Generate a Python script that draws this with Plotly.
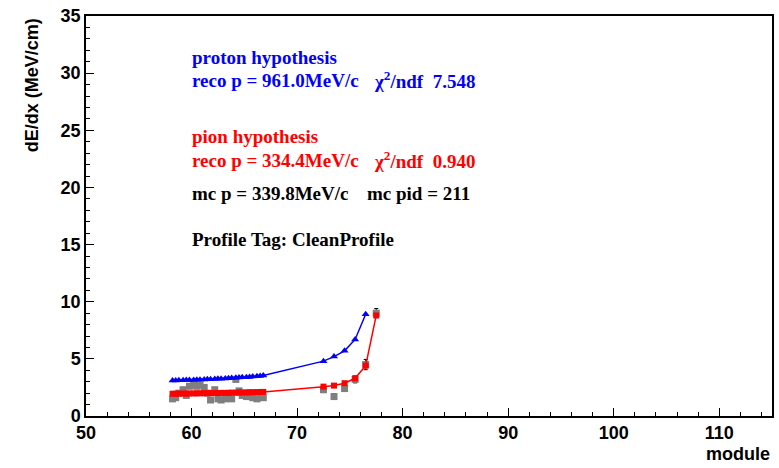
import plotly.graph_objects as go

# module positions
modules = [58.2, 58.5, 58.8, 59.2, 59.5, 59.8, 60.2, 60.5, 60.8, 61.2, 61.5, 61.8,
           62.2, 62.5, 62.8, 63.2, 63.5, 63.8, 64.2, 64.5, 64.8, 65.2, 65.5, 65.8,
           66.2, 66.5, 66.8, 72.5, 73.5, 74.5, 75.5, 76.5, 77.5]

# measured dE/dx (gray) and errors
data_dedx = [1.5, 1.6, 2.0, 2.3, 1.8, 2.6, 2.7, 2.6, 2.7, 2.5, 2.0, 1.4,
             2.3, 1.5, 1.4, 1.5, 1.6, 1.5, 3.2, 2.2, 1.8, 1.7, 2.0, 1.6,
             1.5, 1.7, 1.6, 2.3, 1.7, 2.4, 3.2, 4.5, 9.0]
data_err = [0.2, 0.2, 0.2, 0.2, 0.2, 0.2, 0.2, 0.2, 0.2, 0.2, 0.2, 0.2,
            0.2, 0.2, 0.2, 0.2, 0.2, 0.2, 0.2, 0.2, 0.2, 0.2, 0.2, 0.2,
            0.2, 0.2, 0.2, 0.25, 0.25, 0.25, 0.3, 0.45, 0.4]

# proton hypothesis (blue)
proton_modules = modules[:-1]
proton_dedx = [3.10, 3.11, 3.12, 3.13, 3.14, 3.15, 3.16, 3.17, 3.18, 3.20, 3.21, 3.22,
               3.24, 3.25, 3.27, 3.29, 3.30, 3.32, 3.34, 3.36, 3.38, 3.40, 3.42, 3.45,
               3.48, 3.51, 3.55, 4.8, 5.2, 5.7, 6.7, 8.9]

# pion hypothesis (red)
pion_dedx = [1.95, 1.95, 1.96, 1.96, 1.97, 1.97, 1.98, 1.98, 1.99, 1.99, 2.00, 2.00,
             2.01, 2.01, 2.02, 2.02, 2.03, 2.04, 2.04, 2.05, 2.06, 2.06, 2.07, 2.08,
             2.09, 2.10, 2.11, 2.57, 2.66, 2.87, 3.3, 4.4, 8.8]

x_ticks = [50, 60, 70, 80, 90, 100, 110]
y_ticks = [0, 5, 10, 15, 20, 25, 30, 35]

fig = go.Figure()
fig.add_trace(go.Scatter(
    x=modules, y=data_dedx, mode="markers",
    marker=dict(symbol="square", size=7, color="#7f7f7f"),
    error_y=dict(type="data", array=data_err, color="black", thickness=1, width=2),
    showlegend=False))
fig.add_trace(go.Scatter(
    x=proton_modules, y=proton_dedx, mode="lines+markers",
    line=dict(color="#0000ff", width=1.5),
    marker=dict(symbol="triangle-up", size=7, color="#0000ff"),
    showlegend=False))
fig.add_trace(go.Scatter(
    x=modules, y=pion_dedx, mode="lines+markers",
    line=dict(color="#ff0000", width=1.5),
    marker=dict(symbol="square", size=6, color="#ff0000"),
    showlegend=False))

tickfont = dict(family="Liberation Sans Narrow, Arial Narrow, Liberation Sans, Arial",
                size=18, color="black", weight="bold")

fig.update_xaxes(range=[50, 115], tickvals=x_ticks, ticktext=[str(v) for v in x_ticks],
                 ticks="inside", ticklen=8, tickwidth=1, tickcolor="black",
                 minor=dict(dtick=2, tick0=50, ticks="inside", ticklen=4, tickcolor="black"),
                 showline=True, linecolor="black", linewidth=1.5, mirror=True,
                 showgrid=False, zeroline=False, tickfont=tickfont)
fig.update_yaxes(range=[0, 35], tickvals=y_ticks, ticktext=[str(v) for v in y_ticks],
                 ticks="inside", ticklen=8, tickwidth=1, tickcolor="black",
                 minor=dict(dtick=1, tick0=0, ticks="inside", ticklen=4, tickcolor="black"),
                 showline=True, linecolor="black", linewidth=1.5, mirror=True,
                 showgrid=False, zeroline=False, tickfont=tickfont)

serif = "Liberation Serif, Times New Roman, serif"
def txt(x, y, s, color):
    fig.add_annotation(x=x, y=y, xref="paper", yref="paper", text=s, showarrow=False,
                       xanchor="left", yanchor="middle",
                       font=dict(family=serif, size=19, color=color, weight="bold"))

W, H = 779, 468
L, R, T, B = 86, 5, 16, 52
pw, ph = W - L - R, H - T - B
def px(xp):
    return (xp - L) / pw
def py(yp):
    return (H - B - yp) / ph

txt(px(190), py(57), "proton hypothesis", "#0000ff")
txt(px(190), py(80), "reco p = 961.0MeV/c", "#0000ff")
txt(px(373), py(80), "χ<sup>2</sup>/ndf  7.548", "#0000ff")
txt(px(190), py(136), "pion hypothesis", "#ff0000")
txt(px(190), py(160), "reco p = 334.4MeV/c", "#ff0000")
txt(px(373), py(160), "χ<sup>2</sup>/ndf  0.940", "#ff0000")
txt(px(190), py(194), "mc p = 339.8MeV/c", "black")
txt(px(366), py(194), "mc pid = 211", "black")
txt(px(190), py(239), "Profile Tag: CleanProfile", "black")

fig.add_annotation(x=px(32), y=1.0, xref="paper", yref="paper", text="dE/dx (MeV/cm)",
                   showarrow=False, textangle=-90, xanchor="center", yanchor="top",
                   font=dict(family="Liberation Sans, Arial", size=18, color="black", weight="bold"))
fig.add_annotation(x=1.0, y=py(454), xref="paper", yref="paper", text="module",
                   showarrow=False, xanchor="right", yanchor="middle",
                   font=dict(family="Liberation Sans Narrow, Arial Narrow, Liberation Sans", size=18,
                             color="black", weight="bold"))

fig.update_layout(width=W, height=H, margin=dict(l=L, r=R, t=T, b=B),
                  paper_bgcolor="white", plot_bgcolor="white")
fig.write_html("out.html")
